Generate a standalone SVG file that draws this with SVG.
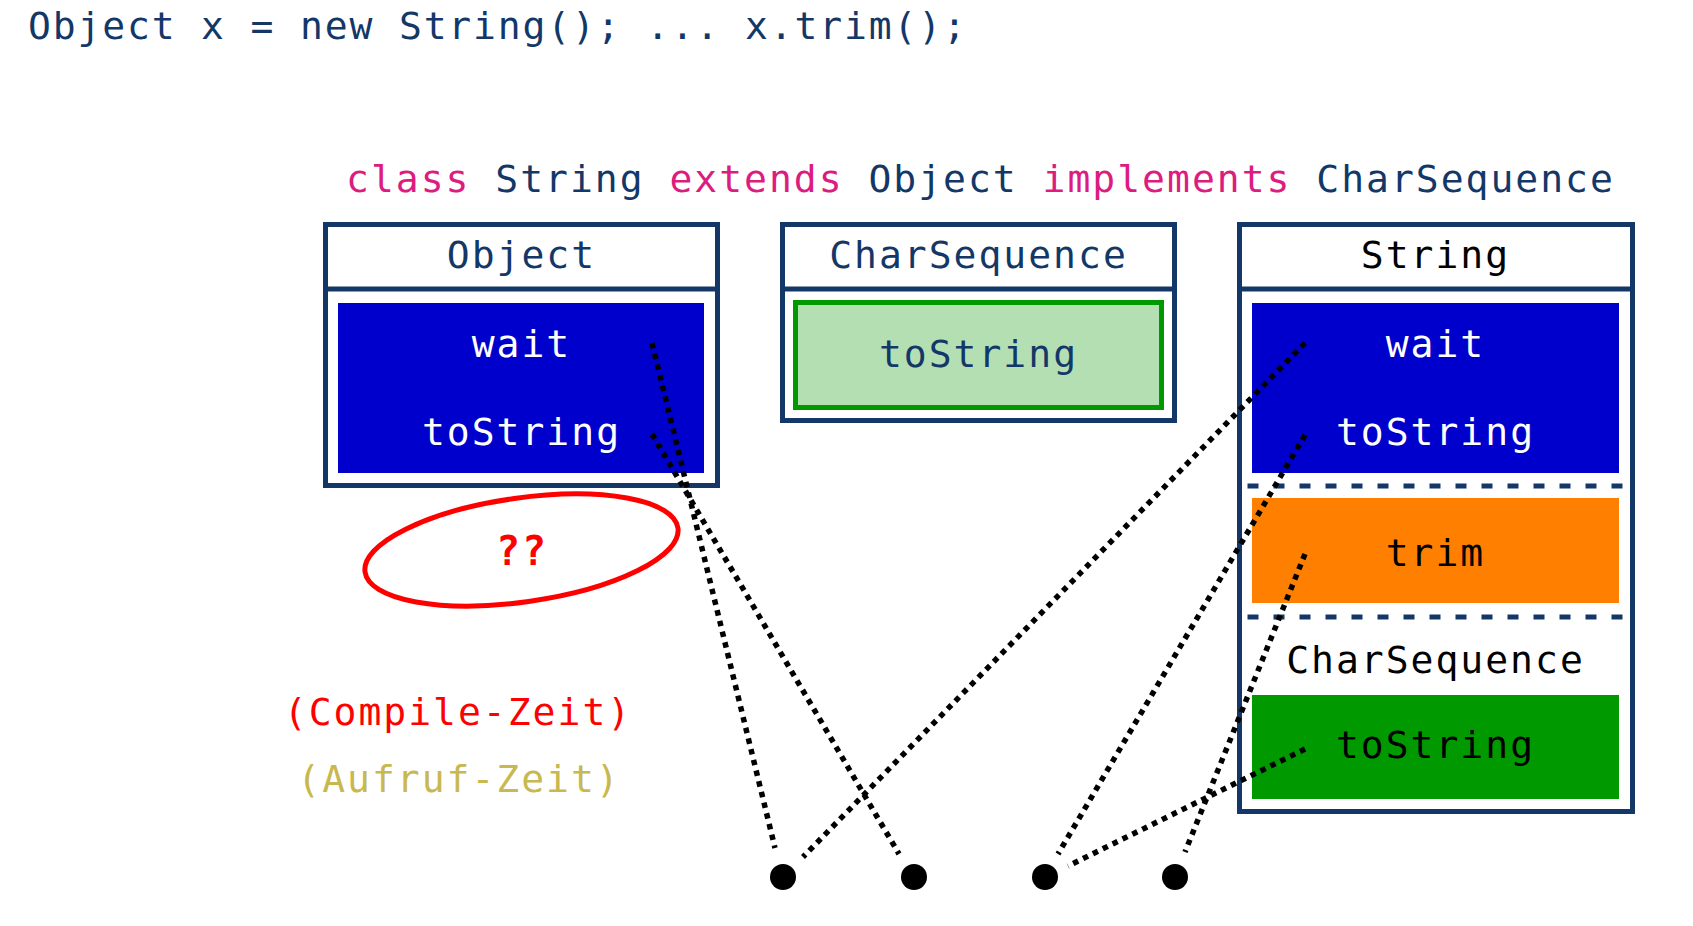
<svg xmlns="http://www.w3.org/2000/svg" width="1693" height="926" viewBox="0 0 1693 926">
<style>
text{font-family:"DejaVu Sans Mono","Liberation Mono",monospace;font-size:38px;letter-spacing:2px}
.c{text-anchor:middle}
.navy{fill:#133868}
.pink{fill:#dc1c7f}
.white{fill:#ffffff}
.black{fill:#000000}
.box{fill:#ffffff;stroke:#133868;stroke-width:5}
.div{stroke:#133868;stroke-width:5}
.dash{stroke:#133868;stroke-width:5;stroke-dasharray:11 15;stroke-dashoffset:-8}
.blue{fill:#0000cc}
.conn line{stroke:#000;stroke-width:5.5;stroke-dasharray:5.5 5.5;fill:none}
.dot{fill:#000}
</style>
<rect width="1693" height="926" fill="#ffffff"/>
<text id="title" x="28" y="39" class="navy" style="letter-spacing:1.85px">Object x = new String(); ... x.trim();</text>
<text id="decl" x="346" y="192"><tspan class="pink">class</tspan><tspan class="navy"> String </tspan><tspan class="pink">extends</tspan><tspan class="navy"> Object </tspan><tspan class="pink">implements</tspan><tspan class="navy"> CharSequence</tspan></text>

<g id="object">
<rect class="box" x="325.5" y="224.5" width="392" height="261"/>
<line class="div" x1="325.5" y1="289" x2="717.5" y2="289"/>
<text class="c navy" x="521.5" y="268">Object</text>
<rect class="blue" x="338" y="303" width="366" height="170"/>
<text class="c white" x="521.5" y="357">wait</text>
<text class="c white" x="521.5" y="445">toString</text>
</g>

<g id="charsequence">
<rect class="box" x="782.5" y="224.5" width="392" height="196"/>
<line class="div" x1="782.5" y1="289" x2="1174.5" y2="289"/>
<text class="c navy" x="978.5" y="268">CharSequence</text>
<rect x="795.5" y="302.5" width="366" height="105" fill="#b3dfb3" stroke="#009900" stroke-width="5"/>
<text class="c navy" x="978.5" y="367">toString</text>
</g>

<g id="string">
<rect class="box" x="1239.5" y="224.5" width="393" height="587"/>
<line class="div" x1="1239.5" y1="289" x2="1632.5" y2="289"/>
<text class="c black" x="1435.5" y="268">String</text>
<rect class="blue" x="1252" y="303" width="367" height="170"/>
<text class="c white" x="1435.5" y="357">wait</text>
<text class="c white" x="1435.5" y="445">toString</text>
<line class="dash" x1="1239.5" y1="486" x2="1632.5" y2="486"/>
<rect x="1252" y="498" width="367" height="105" fill="#ff8000"/>
<text class="c black" x="1435.5" y="566">trim</text>
<line class="dash" x1="1239.5" y1="617" x2="1632.5" y2="617"/>
<text class="c black" x="1435.5" y="673">CharSequence</text>
<rect x="1252" y="695" width="367" height="104" fill="#009900"/>
<text class="c black" x="1435.5" y="758">toString</text>
</g>

<g id="unknown">
<ellipse cx="521.5" cy="550" rx="158" ry="52" transform="rotate(-8 521.5 550)" fill="none" stroke="#ff0000" stroke-width="5"/>
<text class="c" x="522" y="565" fill="#ff0000" style="font-weight:bold;font-size:40px">??</text>
</g>

<text id="compile" class="c" x="458" y="725" fill="#ff0000">(Compile-Zeit)</text>
<text id="aufruf" class="c" x="459" y="792" fill="#c8b84f">(Aufruf-Zeit)</text>

<g id="connectors" class="conn">
<line x1="652" y1="343" x2="775" y2="848"/>
<line x1="652" y1="434" x2="899" y2="854"/>
<line x1="1305" y1="343" x2="803" y2="857"/>
<line x1="1305" y1="435" x2="1058" y2="854"/>
<line x1="1305" y1="554" x2="1185" y2="852"/>
<line x1="1305" y1="749" x2="1068" y2="866"/>
</g>

<g id="dots">
<circle class="dot" cx="783" cy="877" r="13"/>
<circle class="dot" cx="914" cy="877" r="13"/>
<circle class="dot" cx="1045" cy="877" r="13"/>
<circle class="dot" cx="1175" cy="877" r="13"/>
</g>
</svg>
